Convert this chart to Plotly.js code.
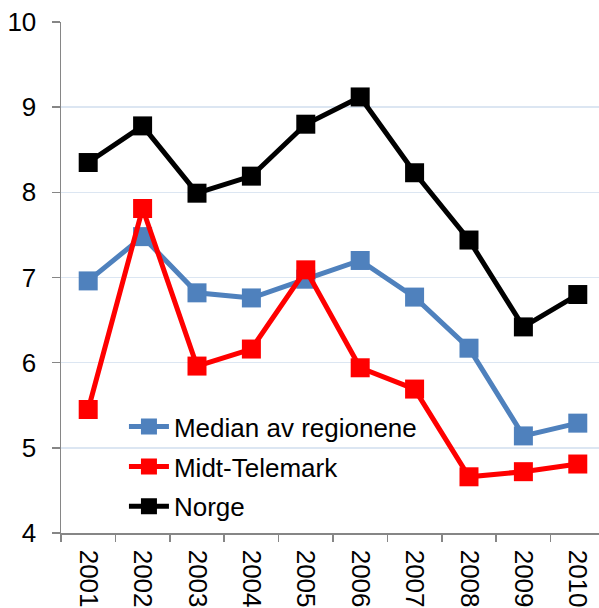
<!DOCTYPE html>
<html><head><meta charset="utf-8">
<script src="https://cdn.plot.ly/plotly-3.0.1.min.js"></script>
<style>body{margin:0;padding:0;background:#fff}#chart{width:599px;height:608px}</style>
</head><body><div id="chart"></div>
<script>
var years = ["2001","2002","2003","2004","2005","2006","2007","2008","2009","2010"];
var median = [6.96, 7.48, 6.82, 6.76, 6.98, 7.20, 6.77, 6.17, 5.14, 5.29];
var midtTelemark = [5.45, 7.81, 5.96, 6.16, 7.09, 5.94, 5.69, 4.66, 4.72, 4.81];
var norge = [8.35, 8.78, 7.99, 8.19, 8.80, 9.12, 8.23, 7.44, 6.42, 6.80];
var seriesNames = ["Median av regionene", "Midt-Telemark", "Norge"];
var colors = ["#4F81BD", "#FF0000", "#000000"];
var yTicks = [4,5,6,7,8,9,10];

function tr(y, i) {
  return {x: years, y: y, name: seriesNames[i], type: "scatter", mode: "lines+markers",
    line: {color: colors[i], width: 5}, marker: {color: colors[i], symbol: "square", size: 19},
    legendgroup: "g" + i};
}
var data = [tr(median,0), tr(midtTelemark,1), tr(norge,2)];
var layout = {
  width: 599, height: 608,
  margin: {l: 61, r: 0, t: 22, b: 75, pad: 0},
  paper_bgcolor: "#fff", plot_bgcolor: "#fff",
  font: {family: "Liberation Sans, Arial, sans-serif", size: 26, color: "#000"},
  showlegend: true,
  legend: {x: 0.117, y: 0.254, xanchor: "left", yanchor: "top", bgcolor: "rgba(0,0,0,0)",
    font: {size: 26}, traceorder: "grouped", tracegroupgap: 3, itemwidth: 40},
  xaxis: {type: "category", range: [-0.5, 9.39], tickangle: 90, ticks: "outside", tickson: "boundaries",
    ticklen: 7, tickcolor: "#868686", tickwidth: 1.5, showline: true, linecolor: "#868686", linewidth: 1.5,
    showgrid: false, zeroline: false, ticklabelstandoff: 10, tickfont: {size: 26}},
  yaxis: {range: [4, 10], tickvals: yTicks, ticks: "outside", ticklen: 8, tickcolor: "#868686", tickwidth: 1.5,
    showline: true, linecolor: "#868686", linewidth: 1.5, gridcolor: "#DCE6F2", gridwidth: 1.5,
    zeroline: false, ticklabelstandoff: 10, tickfont: {size: 26}}
};
Plotly.newPlot("chart", data, layout, {staticPlot: true});
</script></body></html>
